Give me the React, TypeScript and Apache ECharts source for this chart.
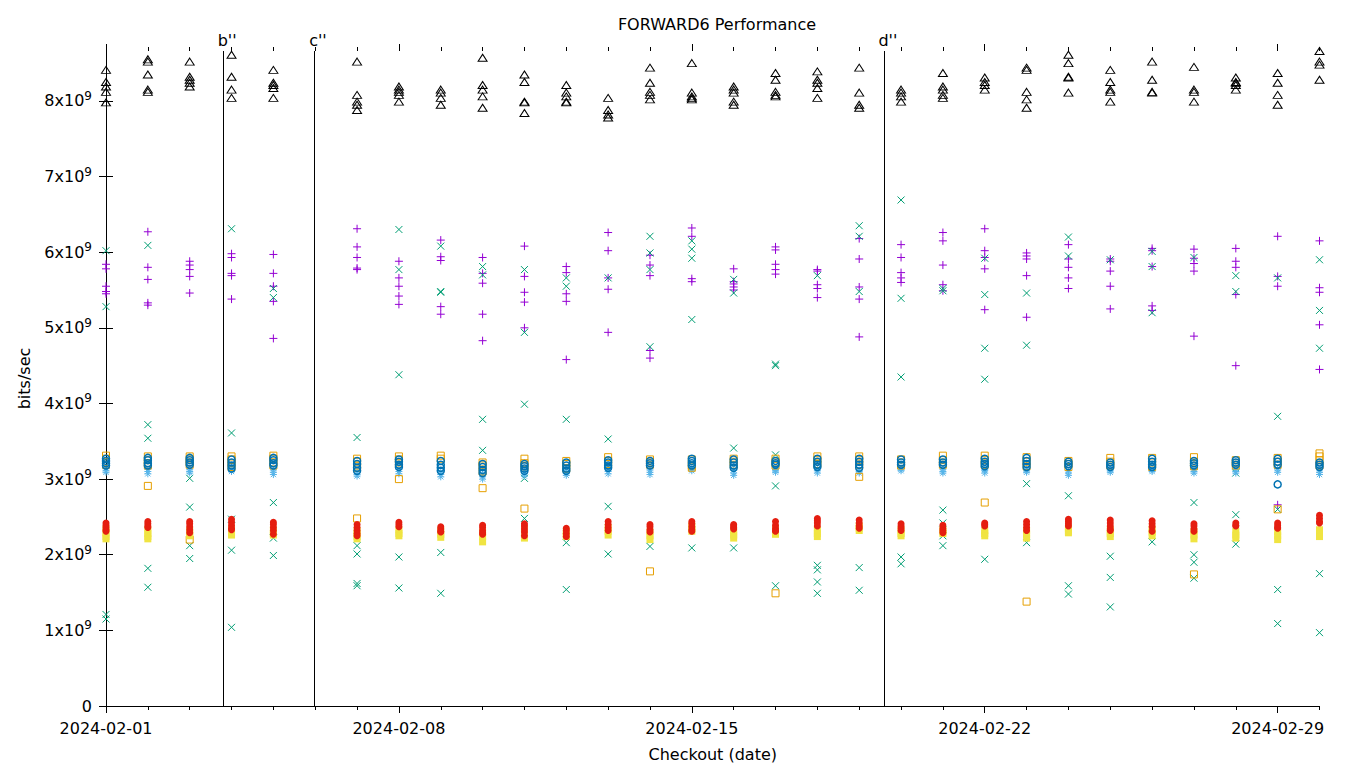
import React, { useEffect, useRef } from "react";
import * as echarts from "echarts";

// ---------- data ----------
const dates = [
  "2024-02-01", "2024-02-02", "2024-02-03", "2024-02-04", "2024-02-05",
  "2024-02-07", "2024-02-08", "2024-02-09", "2024-02-10", "2024-02-11",
  "2024-02-12", "2024-02-13", "2024-02-14", "2024-02-15", "2024-02-16",
  "2024-02-17", "2024-02-18", "2024-02-19", "2024-02-20", "2024-02-21",
  "2024-02-22", "2024-02-23", "2024-02-24", "2024-02-25", "2024-02-26",
  "2024-02-27", "2024-02-28", "2024-02-29", "2024-03-01",
];

const xStart = "2024-02-01";
const xEnd = "2024-03-01";
const xMajorTicks = ["2024-02-01", "2024-02-08", "2024-02-15", "2024-02-22", "2024-02-29"];
const yTicks = [0, 1, 2, 3, 4, 5, 6, 7, 8]; // x10^9
const yMax = 8.66; // x10^9

const markerNames = ["b''", "c''", "d''"];
const markerDates = ["2024-02-03T19:06:00Z", "2024-02-05T23:18:00Z", "2024-02-19T14:13:00Z"];

// values in 10^9 bits/sec, one list per date
const purplePlus = [
  [5.84, 5.78, 5.55, 5.48, 5.45], [6.27, 5.80, 5.64, 5.33, 5.30], [5.88, 5.83, 5.77, 5.68, 5.46],
  [5.98, 5.93, 5.72, 5.69, 5.38], [5.97, 5.72, 5.55, 5.35, 4.86], [6.31, 6.07, 5.93, 5.79, 5.77],
  [5.88, 5.66, 5.55, 5.42, 5.31], [6.16, 5.94, 5.89, 5.28, 5.18], [5.93, 5.72, 5.59, 5.18, 4.83],
  [6.08, 5.68, 5.47, 5.34, 5.00], [5.81, 5.73, 5.45, 5.35, 4.58], [6.26, 6.02, 5.66, 5.51, 4.94],
  [5.96, 5.83, 5.69, 4.70, 4.60], [6.32, 6.21, 5.65, 5.61], [5.78, 5.61, 5.58, 5.54, 5.50],
  [6.07, 6.03, 5.84, 5.77, 5.71], [5.77, 5.75, 5.57, 5.52, 5.40], [6.18, 5.91, 5.54, 5.38, 4.88],
  [6.10, 5.93, 5.73, 5.66, 5.60], [6.26, 6.15, 5.83, 5.57, 5.49], [6.31, 6.02, 5.93, 5.78, 5.24],
  [5.99, 5.95, 5.91, 5.69, 5.14], [6.10, 5.91, 5.80, 5.66, 5.52], [5.91, 5.88, 5.75, 5.55, 5.25],
  [6.05, 6.02, 5.81, 5.29, 5.23], [6.04, 5.92, 5.85, 5.75, 4.89], [6.05, 5.88, 5.80, 5.44, 4.50],
  [6.21, 5.68, 5.55, 2.66], [6.15, 5.53, 5.47, 5.04, 4.45],
];

const tealCross = [
  [6.02, 5.28, 1.21, 1.15], [6.09, 3.72, 3.54, 1.82, 1.57], [3.01, 2.63, 2.12, 1.95],
  [6.31, 3.61, 2.47, 2.06, 1.04], [5.52, 5.40, 2.69, 2.22, 1.99], [3.55, 2.12, 2.01, 1.62, 1.59],
  [6.30, 5.77, 4.38, 1.97, 1.56], [6.08, 5.48, 5.47, 2.03, 1.49], [5.81, 5.70, 3.79, 3.38],
  [5.77, 4.94, 3.99, 3.01, 2.48], [5.66, 5.55, 3.79, 2.16, 1.54], [5.66, 3.53, 2.64, 2.01],
  [6.21, 5.99, 5.77, 4.75, 2.11], [6.15, 6.04, 5.92, 5.11, 2.09], [5.64, 5.46, 3.41, 2.09],
  [4.52, 4.50, 3.32, 2.91, 1.59], [5.69, 1.86, 1.80, 1.64, 1.49], [6.35, 6.21, 5.48, 1.83, 1.53],
  [6.69, 5.39, 4.35, 1.97, 1.88], [5.52, 5.49, 2.59, 2.42, 2.25, 2.12], [5.92, 5.44, 4.73, 4.32, 1.94],
  [5.46, 4.77, 2.94, 2.16], [6.20, 5.95, 2.78, 1.59, 1.48], [5.90, 1.98, 1.70, 1.31],
  [6.01, 5.81, 5.20, 2.17], [5.93, 2.69, 2.00, 1.90, 1.69], [5.69, 5.48, 3.08, 2.53, 2.14],
  [5.66, 3.83, 2.60, 1.54, 1.09], [5.90, 5.23, 4.73, 1.75, 0.97],
];

const lightBlueStar = [
  [3.14, 3.11, 3.09], [3.13, 3.10, 3.07], [3.13, 3.10, 3.08], [3.15, 3.12, 3.10], [3.12, 3.09, 3.06],
  [3.10, 3.06, 3.04], [3.13, 3.10, 3.07], [3.10, 3.06, 3.03], [3.07, 3.03, 3.00], [3.10, 3.07, 3.04],
  [3.11, 3.08, 3.05], [3.14, 3.10, 3.07], [3.12, 3.09, 3.06], [3.15, 3.13, 3.11], [3.12, 3.08, 3.05],
  [3.13, 3.11, 3.09], [3.14, 3.11, 3.08], [3.12, 3.10, 3.08], [3.15, 3.13, 3.11], [3.13, 3.10, 3.08],
  [3.13, 3.11, 3.08], [3.13, 3.11, 3.09], [3.11, 3.08, 3.05], [3.13, 3.11, 3.09], [3.14, 3.12, 3.10],
  [3.13, 3.10, 3.08], [3.13, 3.10, 3.08], [3.14, 3.12, 3.09], [3.12, 3.09, 3.06],
];

const orangeSquare = [
  [3.31, 3.27, 3.23, 3.19], [3.30, 3.25, 3.21, 3.18, 2.91], [3.30, 3.26, 3.22, 3.19, 2.20],
  [3.30, 3.26, 3.21, 3.16], [3.31, 3.27, 3.22, 3.18], [3.27, 3.23, 3.18, 3.15, 2.48],
  [3.30, 3.26, 3.22, 3.00], [3.31, 3.27], [3.22, 3.18, 3.10, 2.88],
  [3.27, 3.21, 3.17, 2.61], [3.24, 3.20, 3.14], [3.29, 3.24, 3.20],
  [3.26, 3.22, 3.19, 1.78], [3.26, 3.18, 3.15], [3.27, 3.23, 3.19],
  [3.27, 3.22, 3.18, 1.49], [3.30, 3.25, 3.20], [3.30, 3.25, 3.19, 3.03],
  [3.26, 3.22, 3.18], [3.31, 3.25, 3.19], [3.31, 3.25, 3.19, 2.69],
  [3.29, 3.23, 3.17, 1.38], [3.24, 3.20, 3.16], [3.28, 3.23, 3.18],
  [3.28, 3.22, 3.16], [3.29, 3.22, 3.17, 1.74], [3.25, 3.21, 3.18],
  [3.28, 3.23, 3.19, 2.60], [3.34, 3.30, 3.25, 3.18],
];

const yellowSquare = [
  [2.34, 2.29, 2.24, 2.21], [2.33, 2.28, 2.24, 2.21], [2.32, 2.28, 2.25], [2.34, 2.29, 2.26],
  [2.33, 2.28, 2.26], [2.32, 2.28, 2.24, 2.21], [2.33, 2.28, 2.25], [2.32, 2.27, 2.23],
  [2.30, 2.24, 2.17], [2.34, 2.28, 2.22], [2.31, 2.27, 2.24], [2.36, 2.31, 2.26],
  [2.30, 2.25, 2.20], [2.38, 2.34, 2.31], [2.31, 2.26, 2.22], [2.34, 2.30, 2.27],
  [2.33, 2.28, 2.24], [2.38, 2.35, 2.32], [2.33, 2.28, 2.25], [2.33, 2.30, 2.28],
  [2.32, 2.28, 2.25], [2.32, 2.27, 2.22], [2.35, 2.31, 2.29], [2.33, 2.28, 2.24],
  [2.34, 2.30, 2.25], [2.31, 2.26, 2.21], [2.31, 2.26, 2.22], [2.30, 2.25, 2.20],
  [2.33, 2.28, 2.24],
];

const blueCircle = [
  [3.27, 3.24, 3.21, 3.18], [3.28, 3.25, 3.21, 3.18], [3.28, 3.25, 3.22, 3.19], [3.26, 3.22, 3.18, 3.14],
  [3.28, 3.25, 3.21, 3.18], [3.24, 3.20, 3.15, 3.11], [3.26, 3.23, 3.19, 3.16], [3.24, 3.19, 3.15, 3.11],
  [3.20, 3.16, 3.12, 3.08], [3.20, 3.17, 3.14, 3.11], [3.22, 3.18, 3.14, 3.11], [3.25, 3.22, 3.18, 3.15],
  [3.24, 3.21, 3.18], [3.27, 3.24, 3.21, 3.18], [3.26, 3.22, 3.18, 3.15], [3.24, 3.21, 3.19],
  [3.27, 3.23, 3.19, 3.16], [3.27, 3.23, 3.19, 3.15], [3.26, 3.22, 3.19], [3.26, 3.22, 3.19],
  [3.27, 3.23, 3.20, 3.17], [3.28, 3.24, 3.20, 3.16], [3.23, 3.20, 3.17], [3.22, 3.19, 3.16],
  [3.27, 3.23, 3.19, 3.16], [3.24, 3.21, 3.18], [3.25, 3.22, 3.19], [3.27, 3.23, 3.19, 2.93],
  [3.22, 3.19, 3.16],
];

const redCircle = [
  [2.42, 2.39, 2.36, 2.33, 2.31], [2.44, 2.41, 2.38, 2.36], [2.44, 2.41, 2.37, 2.33, 2.29],
  [2.47, 2.43, 2.39, 2.35, 2.33], [2.43, 2.40, 2.36, 2.32, 2.27], [2.40, 2.36, 2.32, 2.28, 2.25],
  [2.43, 2.40, 2.37], [2.37, 2.34, 2.31, 2.30], [2.39, 2.36, 2.32, 2.29, 2.27],
  [2.41, 2.38, 2.34, 2.30, 2.25], [2.35, 2.32, 2.28, 2.24], [2.44, 2.40, 2.36, 2.32],
  [2.40, 2.37, 2.33, 2.30], [2.44, 2.41, 2.37, 2.33, 2.31], [2.40, 2.38, 2.36, 2.34],
  [2.44, 2.39, 2.35, 2.32, 2.31], [2.48, 2.45, 2.42, 2.38], [2.46, 2.42, 2.38, 2.35],
  [2.41, 2.38, 2.35, 2.32], [2.39, 2.35, 2.32, 2.29], [2.42, 2.40, 2.38],
  [2.44, 2.40, 2.36, 2.32], [2.47, 2.44, 2.41, 2.38], [2.46, 2.42, 2.38, 2.34, 2.32],
  [2.45, 2.41, 2.37, 2.31], [2.41, 2.38, 2.34, 2.31], [2.42, 2.39, 2.38],
  [2.42, 2.39, 2.36, 2.35], [2.52, 2.48, 2.44, 2.42],
];

const blackTriangle = [
  [8.41, 8.25, 8.19, 8.12, 7.98], [8.55, 8.52, 8.35, 8.15, 8.12], [8.52, 8.32, 8.28, 8.24, 8.19],
  [8.61, 8.32, 8.15, 8.04], [8.41, 8.24, 8.21, 8.17, 8.04], [8.52, 8.08, 7.99, 7.95, 7.88],
  [8.19, 8.15, 8.12, 8.08, 7.99], [8.15, 8.11, 8.04, 7.95], [8.57, 8.21, 8.15, 8.06, 7.91],
  [8.35, 8.25, 7.99, 7.98, 7.84], [8.21, 8.11, 8.06, 7.99, 7.98], [8.04, 7.88, 7.82, 7.78],
  [8.44, 8.24, 8.12, 8.08, 8.02], [8.50, 8.11, 8.06, 8.04, 8.02], [8.19, 8.15, 8.11, 7.99, 7.95],
  [8.37, 8.28, 8.12, 8.08, 8.06], [8.39, 8.28, 8.24, 8.17, 8.04], [8.44, 8.11, 7.95, 7.91],
  [8.15, 8.11, 8.06, 7.99], [8.37, 8.19, 8.15, 8.08, 8.04], [8.31, 8.25, 8.21, 8.15],
  [8.44, 8.41, 8.12, 8.02, 7.91], [8.61, 8.50, 8.32, 8.31, 8.11], [8.41, 8.25, 8.15, 8.12, 7.99],
  [8.52, 8.28, 8.12, 8.11], [8.45, 8.15, 8.12, 7.99], [8.31, 8.25, 8.24, 8.21, 8.15],
  [8.37, 8.24, 8.08, 7.95], [8.66, 8.52, 8.48, 8.28],
];

// ---------- helpers ----------
const DAY = 86400000;
const FONT = "DejaVu Sans";
const t0 = Date.parse(xStart + "T00:00:00Z");
const dayOf = (s: string) => (Date.parse(s.length === 10 ? s + "T00:00:00Z" : s) - t0) / DAY;
const xMax = dayOf(xEnd);

function points(vals: number[][]) {
  const out: number[][] = [];
  vals.forEach((arr, i) => arr.forEach((v) => out.push([dayOf(dates[i]), v * 1e9])));
  return out;
}

const PLUS = "path://M0,4L8,4M4,0L4,8";
const CROSS = "path://M0,0L8,8M8,0L0,8";
const STAR = "path://M0,4L8,4M4,0L4,8M1,1L7,7M7,1L1,7";

function scatter(name: string, vals: number[][], symbol: string, size: any, fill: string, stroke: string, bw: number) {
  return {
    name,
    type: "scatter",
    data: points(vals),
    symbol,
    symbolSize: size,
    silent: true,
    animation: false,
    itemStyle: { color: fill, borderColor: stroke, borderWidth: bw, opacity: 1 },
    emphasis: { disabled: true },
  } as any;
}

export default function App() {
  const ref = useRef<HTMLDivElement>(null);

  useEffect(() => {
    if (!ref.current) return;
    const chart = echarts.init(ref.current, null, { renderer: "svg" });

    const dayTicks: number[] = [];
    for (let d = 0; d <= xMax; d++) dayTicks.push(d);
    const majorX = xMajorTicks.map(dayOf);
    const minorX = dayTicks.filter((d) => majorX.indexOf(d) < 0);
    const yTickVals = yTicks.map((v) => v * 1e9);

    const baseX = { type: "value", min: 0, max: xMax, gridIndex: 0, splitLine: { show: false } };
    const tickStyle = { color: "#000", width: 1 };

    const triSeries = scatter("t8", blackTriangle, "triangle", [9, 7], "rgba(0,0,0,0)", "#000000", 1);
    triSeries.markLine = {
      silent: true,
      symbol: "none",
      animation: false,
      lineStyle: { color: "#000", width: 1, type: "solid" },
      label: {
        show: true,
        position: "end",
        formatter: (p: any) => p.name,
        color: "#000",
        fontFamily: FONT,
        fontSize: 16,
        distance: 3,
        padding: [0, 0, 0, 8],
      },
      emphasis: { disabled: true },
      data: markerNames.map((n, i) => ({ name: n, xAxis: dayOf(markerDates[i]) })),
    };

    const option: any = {
      animation: false,
      backgroundColor: "#ffffff",
      textStyle: { fontFamily: FONT },
      title: {
        text: "FORWARD6 Performance",
        left: 712,
        top: 11,
        textAlign: "center",
        textStyle: { fontFamily: FONT, fontSize: 16, fontWeight: "normal", color: "#000" },
      },
      grid: { left: 106, top: 51, right: 40.5, bottom: 62, containLabel: false, outerBoundsMode: "none" },
      xAxis: [
        {
          ...baseX,
          position: "bottom",
          name: "Checkout (date)",
          nameLocation: "middle",
          nameGap: 40,
          nameTextStyle: { fontFamily: FONT, fontSize: 16, color: "#000" },
          axisLine: { show: true, lineStyle: { color: "#000", width: 1 } },
          axisTick: { show: true, inside: false, length: 7, lineStyle: tickStyle, customValues: majorX },
          axisLabel: {
            show: true,
            customValues: majorX,
            margin: 14,
            color: "#000",
            fontFamily: FONT,
            fontSize: 16,
            formatter: (v: number) => new Date(t0 + v * DAY).toISOString().slice(0, 10),
          },
        },
        {
          ...baseX,
          position: "bottom",
          axisLine: { show: false },
          axisLabel: { show: false },
          axisTick: { show: true, inside: false, length: 4, lineStyle: tickStyle, customValues: minorX },
        },
        {
          ...baseX,
          position: "top",
          axisLine: { show: false },
          axisLabel: { show: false },
          axisTick: { show: true, inside: false, length: 7, lineStyle: tickStyle, customValues: majorX },
        },
        {
          ...baseX,
          position: "top",
          axisLine: { show: false },
          axisLabel: { show: false },
          axisTick: { show: true, inside: false, length: 4, lineStyle: tickStyle, customValues: minorX },
        },
      ],
      yAxis: [
        {
          type: "value",
          min: 0,
          max: yMax * 1e9,
          position: "left",
          name: "bits/sec",
          nameLocation: "middle",
          nameRotate: 90,
          nameGap: 74,
          nameTextStyle: { fontFamily: FONT, fontSize: 16, color: "#000" },
          splitLine: { show: false },
          axisLine: { show: true, lineStyle: { color: "#000", width: 1 } },
          axisTick: { show: true, inside: false, length: 7, lineStyle: tickStyle, customValues: yTickVals },
          axisLabel: {
            show: true,
            customValues: yTickVals,
            margin: 14,
            color: "#000",
            fontFamily: FONT,
            fontSize: 16,
            formatter: (v: number) => (v === 0 ? "{m|0}" : `{m|${Math.round(v / 1e9)}x10}{s|9}`),
            rich: {
              m: { fontFamily: FONT, fontSize: 16, color: "#000" },
              s: { fontFamily: FONT, fontSize: 12, color: "#000", padding: [0, 0, 10, 0] },
            },
          },
        },
        {
          type: "value",
          min: 0,
          max: yMax * 1e9,
          position: "right",
          splitLine: { show: false },
          axisLine: { show: false },
          axisLabel: { show: false },
          axisTick: { show: true, inside: false, length: 7, lineStyle: tickStyle, customValues: yTickVals },
        },
      ],
      series: [
        scatter("t1", purplePlus, PLUS, 8, "rgba(0,0,0,0)", "#9400d3", 1),
        scatter("t2", tealCross, CROSS, 7, "rgba(0,0,0,0)", "#009e73", 1),
        scatter("t3", lightBlueStar, STAR, 7, "rgba(0,0,0,0)", "#56b4e9", 1),
        scatter("t4", orangeSquare, "rect", 7, "rgba(0,0,0,0)", "#e69f00", 1),
        scatter("t5", yellowSquare, "rect", 7, "#f0e442", "#f0e442", 0),
        scatter("t6", blueCircle, "circle", 7, "rgba(0,0,0,0)", "#0072b2", 1.5),
        scatter("t7", redCircle, "circle", 7, "#e51e10", "#e51e10", 0),
        triSeries,
      ],
    };

    chart.setOption(option);
    return () => chart.dispose();
  }, []);

  return (
    <div
      ref={ref}
      style={{ position: "absolute", left: 0, top: 0, width: 1360, height: 768, background: "#fff" }}
    />
  );
}
